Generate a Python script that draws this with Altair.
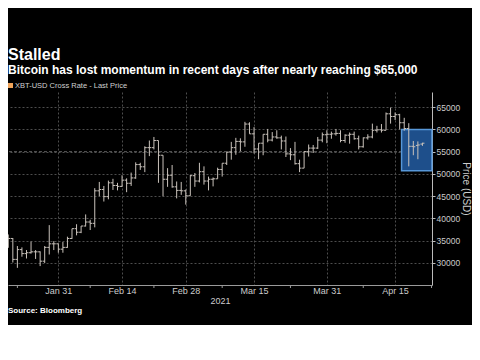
import altair as alt
import pandas as pd

# ---- data ----
dates = pd.date_range("2021-01-20", "2021-04-21", freq="D")
opens = [35500, 35500, 30800, 33000, 32100, 32300, 32500, 32500, 30400, 33500, 34300, 34300,
         33100, 33500, 35500, 37700, 36900, 38300, 39200, 38900, 46200, 46500, 44900, 48000,
         47400, 47200, 48600, 47900, 49100, 52100, 51600, 55900, 55900, 57500, 54200, 48800,
         49700, 47100, 46300, 46200, 45100, 49600, 48400, 50500, 48400, 48800, 48900, 51000,
         52400, 54900, 55900, 57300, 57200, 61200, 59000, 55600, 56900, 58900, 57600, 58300,
         58100, 57400, 54500, 54300, 52300, 51300, 55000, 55800, 55800, 57600, 58800, 58900,
         59000, 59100, 57500, 58700, 58900, 57900, 56100, 58100, 58300, 59800, 59900, 59800,
         63500, 62900, 63300, 61500, 60200, 56200, 56400, 56700]
highs = [36400, 35600, 33800, 33500, 32900, 34800, 32900, 32600, 33800, 38500, 34900, 34400,
         34700, 35900, 37700, 38700, 38300, 40900, 39700, 46800, 48200, 47300, 48500, 48900,
         48000, 49700, 49000, 50300, 52600, 52500, 56200, 57500, 58300, 57500, 54200, 51300,
         52000, 48300, 48200, 46500, 49800, 50200, 52500, 51700, 49400, 49200, 51400, 52400,
         54900, 57200, 58100, 58000, 61700, 61600, 60500, 56900, 58900, 60100, 59400, 59800,
         58600, 58400, 55800, 57200, 53200, 55100, 56600, 56500, 58300, 59300, 59800, 59500,
         60100, 59800, 58900, 59300, 59500, 58600, 58200, 58900, 61300, 60800, 61200, 63800,
         64900, 63800, 63500, 62600, 61400, 57400, 57300, 57000]
lows = [33400, 30100, 28900, 31400, 31000, 32100, 30900, 29300, 30000, 31900, 32900, 32300,
        32300, 33400, 35400, 36200, 36700, 38200, 37400, 38000, 45000, 43800, 44300, 46400,
        46300, 47100, 45900, 47300, 48900, 50900, 50400, 54000, 55500, 48000, 45000, 47100,
        46900, 44500, 45300, 43100, 45100, 47100, 48100, 47600, 46300, 47200, 48900, 49400,
        52000, 53200, 54300, 55100, 56100, 59000, 54600, 53300, 54200, 57100, 57300, 57900,
        55500, 53800, 53100, 52100, 50400, 51300, 53900, 54700, 55600, 57100, 56900, 57900,
        58600, 57100, 57000, 56800, 57700, 55500, 55900, 57700, 58000, 59300, 59300, 59800,
        61300, 62100, 60000, 59700, 51700, 54200, 53300, 56300]
closes = [35500, 30800, 33000, 32100, 32300, 32500, 32500, 30400, 33500, 34300, 34300, 33100,
          33500, 35500, 37700, 36900, 38300, 39200, 38900, 46200, 46500, 44900, 48000, 47400,
          47200, 48600, 47900, 49100, 52100, 51600, 55900, 55900, 57500, 54200, 48800, 49700,
          47100, 46300, 46200, 45100, 49600, 48400, 50500, 48400, 48800, 48900, 51000, 52400,
          54900, 55900, 57300, 57200, 61200, 59000, 55600, 56900, 58900, 57600, 58300, 58100,
          57400, 54500, 54300, 52300, 51300, 55000, 55800, 55800, 57600, 58800, 58900, 59000,
          59100, 57500, 58700, 58900, 57900, 56100, 58100, 58300, 59800, 59900, 59800, 63500,
          62900, 63300, 61500, 60200, 56200, 56100, 56500, 56900]

x_label_dates = [(1, 31), (2, 14), (2, 28), (3, 15), (3, 31), (4, 15)]
minor_tick_dates = ["2021-01-22", "2021-02-07", "2021-02-21", "2021-03-08",
                    "2021-03-23", "2021-04-08", "2021-04-23"]
y_ticks = [30000, 35000, 40000, 45000, 50000, 55000, 60000, 65000]
box_x = ["2021-04-16T10:00:00", "2021-04-23T02:00:00"]
box_y = [50700, 60000]
ref_line = [55000]

title_text = "Stalled"
subtitle_text = "Bitcoin has lost momentum in recent days after nearly reaching $65,000"
legend_text = "XBT-USD Cross Rate - Last Price"
source_text = "Source: Bloomberg"

# ---- build ----
df = pd.DataFrame({"date": dates, "open": opens, "high": highs, "low": lows, "close": closes})

FONT = "Liberation Sans"
W, H = 424, 193
BAR = "#c9c2bb"

xscale = alt.Scale(domain=["2021-01-19T22:30:00", "2021-04-23T02:30:00"])
yscale = alt.Scale(domain=[25050, 68400], nice=False, zero=False)

x_axis = alt.Axis(
    values=[alt.DateTime(year=2021, month=m, date=d) for m, d in x_label_dates],
    format="%b %d", title="2021", ticks=False, labelPadding=1, titlePadding=1,
    labelFontSize=9, titleFontSize=9, titleFontWeight="normal",
    labelColor="#cccccc", titleColor="#cccccc", domainColor="#9a9a9a",
    grid=True, gridColor="#4d4d4d", gridDash=[2, 2], labelFont=FONT, titleFont=FONT,
)
y_axis = alt.Axis(
    orient="right", values=y_ticks, format="d", title="Price (USD)",
    titleAngle=90, titlePadding=1, labelPadding=1, tickSize=3, labelOverlap=False,
    labelFontSize=8.5, titleFontSize=10, titleFontWeight="normal",
    labelColor="#cccccc", titleColor="#cccccc", tickColor="#bbbbbb", domainColor="#bbbbbb",
    grid=True, gridColor="#4d4d4d", gridDash=[2, 2], labelFont=FONT, titleFont=FONT,
)

def X(field):
    return alt.X(field, scale=xscale, axis=x_axis)

def Y(field):
    return alt.Y(field, scale=yscale, axis=y_axis)

base = alt.Chart(df)

hl = base.mark_rule(color=BAR, strokeWidth=1).encode(
    x=X("date:T"), y=Y("low:Q"), y2="high:Q")
op = base.mark_rule(color=BAR, strokeWidth=1, xOffset=-2).encode(
    x=X("date:T"), x2="date:T", y=Y("open:Q"))
cl = base.mark_rule(color=BAR, strokeWidth=1, x2Offset=2).encode(
    x=X("date:T"), x2="date:T", y=Y("close:Q"))

ref = alt.Chart(pd.DataFrame({"v": ref_line})).mark_rule(
    color="#5e5e5e", strokeDash=[3, 2], strokeWidth=1).encode(y=Y("v:Q"))

box = alt.Chart(pd.DataFrame({"x1": [box_x[0]], "x2": [box_x[1]],
                              "y1": [box_y[0]], "y2": [box_y[1]]})).mark_rect(
    fill="#1e4f8b", stroke="#5797d8", strokeWidth=1.5).encode(
    x=X("x1:T"), x2="x2:T", y=Y("y1:Q"), y2="y2:Q")

minor = alt.Chart(pd.DataFrame({"d": pd.to_datetime(minor_tick_dates)})).mark_rule(
    color="#9a9a9a").encode(x=X("d:T"), y=alt.value(H), y2=alt.value(H + 3))

def txt(s, x, y, size, weight="normal", color="#ffffff"):
    return alt.Chart(pd.DataFrame({"t": [s]})).mark_text(
        align="left", baseline="alphabetic", font=FONT, fontSize=size,
        fontWeight=weight, color=color).encode(
        text="t:N", x=alt.value(x), y=alt.value(y))

title = txt(title_text, 0, -32, 16, "bold")
subtitle = txt(subtitle_text, 0, -18.5, 12, "bold")
legend = txt(legend_text, 7, -4, 7.5, "normal", "#d0d0d0")
source = txt(source_text, 0, 221, 8, "bold")
swatch = alt.Chart(pd.DataFrame({"t": [legend_text]})).mark_rect(
    color="#f0a45a").encode(x=alt.value(0), x2=alt.value(5), y=alt.value(-9), y2=alt.value(-4))

chart = alt.layer(ref, box, hl, op, cl, minor, title, subtitle, swatch, legend, source).properties(
    width=W, height=H,
    autosize=alt.AutoSizeParams(type="none"),
    padding={"left": 0, "top": 84, "right": 40, "bottom": 40},
    background="#000000",
).configure_view(stroke=None)

chart.save("out.html", embed_options={"renderer": "svg", "actions": False})
